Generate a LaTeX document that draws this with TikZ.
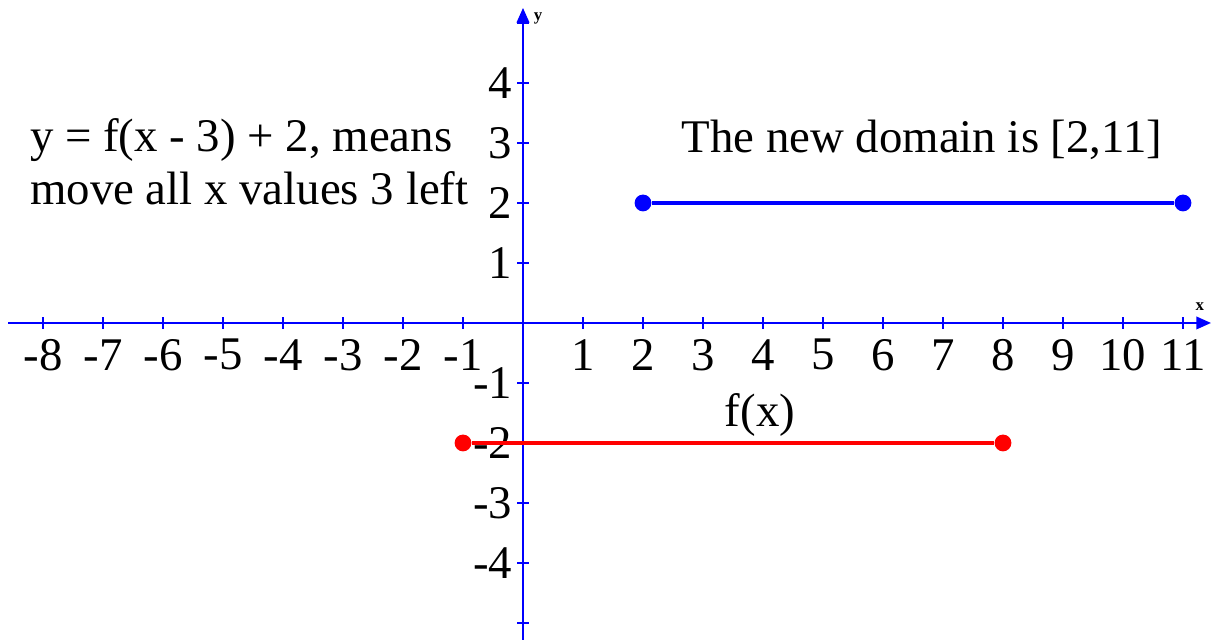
\documentclass[tikz,border=0pt]{standalone}
\usepackage{fontspec}
\setmainfont{Liberation Serif}
\usetikzlibrary{arrows.meta}

\begin{document}
\begin{tikzpicture}[
    x=1cm, y=1cm,
    every node/.style={font=\fontsize{22.2pt}{25pt}\selectfont},
    axis_line/.style={blue, line width=0.9pt, -{Triangle[length=7pt,width=6pt]}},
    tick_mark/.style={blue, line width=0.7pt},
    tick_label/.style={inner sep=0pt, text=black},
    axis_name/.style={inner sep=0pt, font=\fontsize{8pt}{9pt}\selectfont\bfseries},
    endpoint/.style={circle, inner sep=0pt, minimum size=0.28cm},
    segment/.style={line width=2.3pt}
]
\useasboundingbox (-8.717,-5.283) rectangle (11.467,5.383);

% axes
\coordinate (x_start) at (-8.58,0);
\coordinate (x_end) at (11.467,0);
\coordinate (y_start) at (0,-5.283);
\coordinate (y_end) at (0,5.25);
\draw[axis_line] (x_start) -- (x_end);
\draw[axis_line] (y_start) -- (y_end);
\node[axis_name] (x_name) at (11.28,0.27) {x};
\node[axis_name] (y_name) at (0.25,5.08) {y};

% ticks and numbers
\foreach \x in {-8,...,-1,1,2,...,11} {
    \draw[tick_mark] (\x,-0.1) -- (\x,0.1);
    \node[tick_label] (xl\x) at (\x,-0.53) {\x};
}
\foreach \y in {-5,...,-1,1,2,...,5} {
    \draw[tick_mark] (-0.1,\y) -- (0.1,\y);
}
\foreach \y in {-4,...,-1,1,2,...,4} {
    \node[tick_label, anchor=east] (yl\y) at (-0.17,\y) {\y};
}

% texts
\node[align=left, anchor=west, inner sep=0pt] (rule_text) at (-8.22,2.69)
    {y = f(x - 3) + 2, means\\move all x values 3 left};
\node (domain_text) at (6.65,3.05) {The new domain is [2,11]};
\node (f_text) at (3.95,-1.53) {f(x)};

% segments
\node[endpoint, fill=red] (r1) at (-1,-2) {};
\node[endpoint, fill=red] (r2) at (8,-2) {};
\draw[segment, red] (r1) -- (r2);
\node[endpoint, fill=blue] (b1) at (2,2) {};
\node[endpoint, fill=blue] (b2) at (11,2) {};
\draw[segment, blue] (b1) -- (b2);

\end{tikzpicture}
\end{document}
